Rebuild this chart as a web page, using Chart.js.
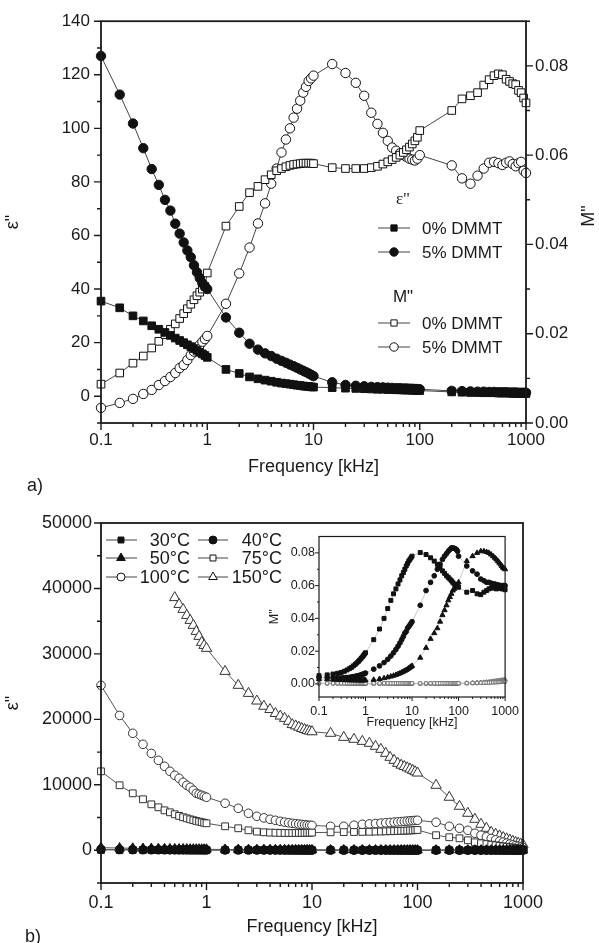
<!DOCTYPE html>
<html>
<head>
<meta charset="utf-8">
<script src="https://cdn.jsdelivr.net/npm/chart.js@4.4.1/dist/chart.umd.min.js"></script>
<style>
body { margin: 0; background: #fff; width: 599px; height: 943px; position: relative; overflow: hidden;
       font-family: "Liberation Sans", Arial, sans-serif; color: #1a1a1a; }
canvas { position: absolute; }
.tag { position: absolute; font-size: 18px; line-height: 20px; }
</style>
</head>
<body>
<canvas id="chartA" width="599" height="490" style="left:0;top:0"></canvas>
<canvas id="chartB" width="599" height="473" style="left:0;top:470px"></canvas>
<canvas id="inset" width="264" height="208" style="left:262px;top:525px"></canvas>
<div class="tag" style="left:27px;top:475px">a)</div>
<div class="tag" style="left:25px;top:926px">b)</div>
<script>
// frequency grid [kHz]
var freqA = [0.1,0.15,0.2,0.25,0.3,0.35,0.4,0.45,0.5,0.55,0.6,0.65,0.7,0.75,0.8,0.85,0.9,0.95,1,
    1.5,2,2.5,3,3.5,4,4.5,5,5.5,6,6.5,7,7.5,8,8.5,9,9.5,10,
    15,20,25,30,35,40,45,50,55,60,65,70,75,80,85,90,95,100,
    200,250,300,350,400,450,500,550,600,650,700,750,800,850,900,950,1000];
var freqB = [0.1,0.15,0.2,0.25,0.3,0.35,0.4,0.45,0.5,0.55,0.6,0.65,0.7,0.75,0.8,0.85,0.9,0.95,1,
    1.5,2,2.5,3,3.5,4,4.5,5,5.5,6,6.5,7,7.5,8,8.5,9,9.5,10,
    15,20,25,30,35,40,45,50,55,60,65,70,75,80,85,90,95,100,
    150,200,250,300,350,400,450,500,550,600,650,700,750,800,850,900,950,1000];

// panel a: eps'' (left axis) and M'' (right axis)
var epsDMMT0 = [35.5,33,30,28.1,26.3,25,23.8,22.7,21.7,20.8,20,19.2,18.5,17.8,17.1,16.4,15.8,15.2,14.5,
    10,8.5,7.2,6.5,6,5.6,5.2,4.9,4.7,4.5,4.3,4.1,4,3.8,3.7,3.6,3.5,3.4,
    3.2,3.0,2.9,2.8,2.7,2.6,2.6,2.5,2.5,2.4,2.4,2.3,2.3,2.3,2.2,2.2,2.2,2.1,
    1.6,1.5,1.4,1.4,1.3,1.3,1.3,1.2,1.2,1.2,1.2,1.1,1.1,1.1,1.1,1.0,1.0];
var epsDMMT5 = [127,112.6,101.8,92.6,84.8,78.9,73.3,69.3,64.4,60.7,57.4,54.4,51.9,48.9,46.3,44.1,42.2,41,40,
    29.4,23.7,19.6,17.4,16,15,14,13.2,12.5,11.8,11.2,10.6,10,9.5,9,8.5,8,7.5,
    5.2,4.2,3.9,3.7,3.5,3.4,3.3,3.2,3.1,3.0,3.0,2.9,2.9,2.8,2.8,2.7,2.7,2.6,
    2.0,1.9,1.8,1.7,1.7,1.6,1.6,1.5,1.5,1.5,1.4,1.4,1.4,1.3,1.3,1.3,1.3];
var modDMMT0 = [0.0087,0.0112,0.0134,0.015,0.0168,0.0183,0.0198,0.021,0.0222,0.0234,0.0245,0.0256,0.0266,0.0276,0.0285,0.0293,0.03,0.0306,0.0336,
    0.0441,0.0485,0.0516,0.053,0.0545,0.0556,0.0565,0.057,0.0574,0.0577,0.0579,0.058,0.0581,0.0582,0.0582,0.0582,0.0582,0.0581,
    0.0572,0.057,0.057,0.057,0.0572,0.0575,0.058,0.0585,0.059,0.0595,0.06,0.0606,0.0612,0.0618,0.0625,0.0632,0.064,0.0655,
    0.07,0.0726,0.0733,0.074,0.0757,0.0769,0.0778,0.0782,0.078,0.077,0.0765,0.076,0.0758,0.0745,0.074,0.0728,0.0717];
var modDMMT5 = [0.0034,0.0045,0.0054,0.0065,0.0074,0.0085,0.0094,0.0103,0.0112,0.0123,0.013,0.0141,0.0152,0.016,0.0168,0.0175,0.0182,0.0188,0.0195,
    0.0267,0.0335,0.0393,0.0447,0.0492,0.0536,0.057,0.0606,0.0635,0.066,0.0684,0.0704,0.0722,0.074,0.0753,0.0766,0.0772,0.0778,
    0.0804,0.0784,0.0762,0.0733,0.0695,0.067,0.065,0.0632,0.0617,0.061,0.0604,0.06,0.0596,0.0592,0.059,0.0588,0.0592,0.06,
    0.0577,0.0548,0.0536,0.0554,0.057,0.0583,0.0585,0.0582,0.0578,0.0583,0.0586,0.058,0.0575,0.0582,0.0585,0.0565,0.056];

// panel b: eps'' at each temperature
var eps30 = [60,55,50,48,46,44,42,40,39,38,37,36,35,34,33,32,31,30,30,
    26,24,22,21,20,19,18,18,17,17,16,16,15,15,15,14,14,14,
    12,11,10,10,9,9,9,8,8,8,8,7,7,7,7,7,6,6,
    6,5,5,5,5,4,4,4,4,4,4,4,3,3,3,3,3,3];
var eps40 = [120,105,95,88,82,78,74,71,68,66,64,62,60,58,57,56,55,54,53,
    45,40,37,35,33,31,30,29,28,27,26,25,25,24,24,23,23,22,
    19,17,16,15,14,14,13,13,12,12,12,11,11,11,11,10,10,10,
    9,8,8,7,7,7,6,6,6,6,6,6,5,5,5,5,5,5];
var eps50 = [400,340,300,270,250,235,222,210,200,192,185,178,172,167,162,158,154,150,147,
    120,105,95,88,82,78,74,71,68,66,64,62,60,58,57,56,55,54,
    46,41,38,36,34,32,31,30,29,28,27,26,26,25,25,24,24,23,
    20,19,18,17,16,16,15,15,14,14,14,13,13,13,12,12,12,12];
var eps75 = [12060,9930,8700,7790,7020,6565,6100,5800,5500,5250,5050,4880,4730,4600,4480,4380,4290,4200,4120,
    3660,3360,3050,2850,2750,2700,2680,2660,2650,2640,2640,2640,2650,2650,2660,2670,2680,2700,
    2740,2770,2790,2810,2830,2850,2870,2890,2910,2930,2950,2970,2990,3010,3030,3050,3070,3100,
    2300,1990,1830,1530,1220,1070,950,850,760,680,600,530,460,400,340,280,220,170];
var eps100 = [25200,20600,17870,16190,14800,13740,12830,12060,11450,10990,10380,9930,9620,9160,8700,8550,8400,8250,8100,
    7180,6410,5650,5190,4950,4730,4580,4420,4300,4200,4120,4050,4000,3950,3900,3860,3820,3800,
    3660,3660,3820,3970,4030,4090,4150,4200,4250,4300,4340,4380,4420,4460,4500,4530,4560,4580,
    4280,3660,3360,3050,2600,2300,2050,1800,1600,1400,1250,1100,950,820,700,600,500,400];
var eps150 = [null,null,null,null,null,null,null,null,38600,37560,36800,35880,35120,34360,33440,32680,31760,31300,30850,
    27330,25200,23970,22800,22000,21500,20900,20500,20150,19700,19200,19000,18800,18600,18450,18300,18200,18100,
    17870,17250,16950,16640,16340,15880,15420,14810,14200,13740,13280,13000,12800,12600,12400,12200,12000,11800,
    9930,8100,6720,5650,4730,3970,3360,2750,2450,2200,1950,1750,1550,1380,1220,1080,950,850];

// inset: M'' at each temperature
var mod30 = [0.005,0.0055,0.006,0.0065,0.007,0.0077,0.0085,0.0093,0.0101,0.011,0.0119,0.0128,0.0137,0.0146,0.0155,0.0164,0.0173,0.0182,0.019,
    0.027,0.0335,0.04,0.046,0.051,0.055,0.058,0.061,0.0635,0.066,0.068,0.07,0.072,0.0735,0.075,0.076,0.077,0.078,
    0.0802,0.079,0.077,0.075,0.073,0.071,0.069,0.0675,0.066,0.065,0.064,0.063,0.062,0.061,0.0605,0.06,0.0595,0.059,
    0.056,0.057,0.055,0.0545,0.056,0.057,0.058,0.0585,0.059,0.0585,0.058,0.0585,0.059,0.0585,0.058,0.0585,0.058,0.0575];
var mod40 = [0.004,0.0038,0.0037,0.0037,0.0037,0.0038,0.0039,0.004,0.0042,0.0044,0.0046,0.0048,0.005,0.0052,0.0055,0.0058,0.006,0.0063,0.0066,
    0.009,0.011,0.013,0.015,0.017,0.019,0.021,0.023,0.025,0.027,0.029,0.031,0.032,0.034,0.035,0.036,0.037,0.038,
    0.048,0.057,0.062,0.066,0.07,0.073,0.076,0.078,0.0795,0.081,0.082,0.083,0.083,0.0828,0.0825,0.082,0.081,0.078,
    0.072,0.069,0.067,0.064,0.063,0.062,0.062,0.0615,0.061,0.061,0.0605,0.0605,0.06,0.06,0.06,0.06,0.06,0.06];
var mod50 = [0.003,0.0028,0.0026,0.0025,0.0024,0.0023,0.0023,0.0022,0.0022,0.0022,0.0022,0.0022,0.0022,0.0022,0.0022,0.0022,0.0022,0.0022,0.0022,
    0.0025,0.003,0.0035,0.004,0.0045,0.005,0.0055,0.006,0.0065,0.007,0.0075,0.008,0.0085,0.009,0.0095,0.01,0.0105,0.011,
    0.016,0.022,0.0275,0.031,0.034,0.038,0.042,0.045,0.048,0.051,0.053,0.055,0.057,0.058,0.059,0.06,0.061,0.062,
    0.075,0.078,0.08,0.081,0.081,0.0805,0.08,0.079,0.078,0.077,0.076,0.075,0.074,0.073,0.072,0.071,0.0705,0.07];
var mod75 = [0.0004,0.0004,0.0004,0.0004,0.0004,0.0004,0.0004,0.0004,0.0004,0.0004,0.0004,0.0004,0.0004,0.0004,0.0004,0.0004,0.0004,0.0004,0.0004,
    0.0004,0.0004,0.0004,0.0004,0.0004,0.0004,0.0004,0.0004,0.0004,0.0004,0.0004,0.0004,0.0004,0.0004,0.0004,0.0004,0.0004,0.0004,
    0.0004,0.0004,0.0004,0.0004,0.0004,0.0004,0.0004,0.0004,0.0004,0.0004,0.0004,0.0004,0.0004,0.0004,0.0004,0.0004,0.0004,0.0004,
    0.0005,0.0006,0.0006,0.0007,0.0007,0.0008,0.0008,0.0009,0.0009,0.001,0.001,0.0011,0.0011,0.0012,0.0012,0.0013,0.0013,0.0014];
var mod100 = [0.0002,0.0002,0.0002,0.0002,0.0002,0.0002,0.0002,0.0002,0.0002,0.0002,0.0002,0.0002,0.0002,0.0002,0.0002,0.0002,0.0002,0.0002,0.0002,
    0.0002,0.0002,0.0002,0.0002,0.0002,0.0002,0.0002,0.0002,0.0002,0.0002,0.0002,0.0002,0.0002,0.0002,0.0002,0.0002,0.0002,0.0002,
    0.0002,0.0002,0.0002,0.0002,0.0002,0.0002,0.0002,0.0002,0.0002,0.0002,0.0002,0.0002,0.0002,0.0002,0.0002,0.0002,0.0003,0.0003,
    0.0004,0.0005,0.0006,0.0007,0.0008,0.0009,0.001,0.0011,0.0012,0.0013,0.0014,0.0015,0.0016,0.0017,0.0018,0.0019,0.002,0.002];
var mod150 = [null,null,null,null,null,null,null,null,0.0001,0.0001,0.0001,0.0001,0.0001,0.0001,0.0001,0.0001,0.0001,0.0001,0.0001,
    0.0001,0.0001,0.0001,0.0001,0.0001,0.0001,0.0001,0.0001,0.0001,0.0001,0.0001,0.0001,0.0001,0.0001,0.0001,0.0001,0.0001,0.0001,
    0.0001,0.0001,0.0001,0.0001,0.0001,0.0001,0.0001,0.0002,0.0002,0.0002,0.0002,0.0002,0.0002,0.0002,0.0002,0.0003,0.0003,0.0003,
    0.0005,0.0006,0.0008,0.0009,0.001,0.0012,0.0013,0.0015,0.0016,0.0018,0.0019,0.002,0.0021,0.0022,0.0023,0.0024,0.0025,0.0026];

// tick positions
var decadeTicks = [0.1, 1, 10, 100, 1000];
var decadeMinor = [0.2,0.3,0.4,0.5,0.6,0.7,0.8,0.9, 2,3,4,5,6,7,8,9, 20,30,40,50,60,70,80,90, 200,300,400,500,600,700,800,900];
var epsTicksA = [0, 20, 40, 60, 80, 100, 120, 140];
var epsMinorA = [-10, 10, 30, 50, 70, 90, 110, 130];
var modTicksA = [0, 0.02, 0.04, 0.06, 0.08];
var modMinorA = [0.01, 0.03, 0.05, 0.07, 0.09];
var epsTicksB = [0, 10000, 20000, 30000, 40000, 50000];
var epsMinorB = [-5000, 5000, 15000, 25000, 35000, 45000];
var modTicksIn = [0, 0.02, 0.04, 0.06, 0.08];
var modMinorIn = [0.01, 0.03, 0.05, 0.07];

var namesA = ['0% DMMT', '5% DMMT'];
var namesB = ['30°C', '40°C', '50°C', '75°C', '100°C', '150°C'];

var FONT = '"Liberation Sans", Arial, sans-serif';
var INK = '#1a1a1a';

function pts(freq, vals) {
    return vals.map(function (v, i) { return { x: freq[i], y: v }; });
}

function series(freq, vals, style, filled, r, opts) {
    opts = opts || {};
    return {
        data: pts(freq, vals),
        yAxisID: opts.axis || 'y',
        borderColor: opts.line || '#444',
        borderWidth: opts.lw || 1,
        pointStyle: style,
        pointRadius: r,
        pointHoverRadius: r,
        pointBackgroundColor: filled ? '#111' : '#fff',
        pointBorderColor: opts.mark || '#111',
        pointBorderWidth: opts.mw || 1,
        tension: 0,
        clip: false,
        spanGaps: false
    };
}

function fixTicks(list) {
    return function (s) { s.ticks = list.map(function (v) { return { value: v }; }); };
}

// frame, outward major/minor ticks and extra drawing
function framePlugin(spec) {
    return {
        id: 'frame',
        afterDatasetsDraw: function (chart) {
            var ctx = chart.ctx, a = chart.chartArea;
            ctx.save();
            ctx.strokeStyle = INK;
            ctx.lineWidth = spec.frame;
            ctx.strokeRect(a.left, a.top, a.right - a.left, a.bottom - a.top);
            ctx.lineWidth = spec.tickWidth;
            ctx.beginPath();
            spec.axes.forEach(function (ax) {
                var s = chart.scales[ax.id];
                [[ax.major, spec.major], [ax.minor, spec.minor]].forEach(function (pair) {
                    pair[0].forEach(function (v) {
                        var p = s.getPixelForValue(v);
                        if (ax.side === 'bottom') { ctx.moveTo(p, a.bottom); ctx.lineTo(p, a.bottom + pair[1]); }
                        else if (ax.side === 'left') { ctx.moveTo(a.left, p); ctx.lineTo(a.left - pair[1], p); }
                        else { ctx.moveTo(a.right, p); ctx.lineTo(a.right + pair[1], p); }
                    });
                });
            });
            ctx.stroke();
            if (spec.extra) spec.extra(ctx, a);
            ctx.restore();
        }
    };
}

function drawKey(ctx, k, x0, x1, xm, y) {
    ctx.strokeStyle = '#444';
    ctx.lineWidth = 1;
    ctx.beginPath(); ctx.moveTo(x0, y); ctx.lineTo(x1, y); ctx.stroke();
    ctx.fillStyle = k.filled ? '#111' : '#fff';
    ctx.strokeStyle = '#111';
    Chart.helpers.drawPoint(ctx, { pointStyle: k.style, radius: k.r, borderWidth: 1, rotation: 0 }, xm, y);
}

function tickFont(size) { return { family: FONT, size: size }; }

function logAxis(opts) {
    return {
        type: 'logarithmic', min: 0.1, max: 1000,
        afterBuildTicks: fixTicks(decadeTicks),
        afterFit: function (s) { s.height = opts.height; },
        ticks: { padding: opts.pad, color: INK, font: tickFont(opts.size), maxRotation: 0, autoSkip: false,
                 callback: function (v) { return String(v); } },
        grid: { display: false, drawTicks: false },
        border: { display: false },
        title: { display: true, text: 'Frequency [kHz]', color: INK, font: tickFont(opts.titleSize),
                 padding: { top: 0, bottom: opts.titlePad } }
    };
}

function linAxis(opts) {
    return {
        type: 'linear', position: opts.position || 'left', min: opts.min, max: opts.max,
        afterBuildTicks: fixTicks(opts.ticks),
        afterFit: function (s) { s.width = opts.width; },
        ticks: { padding: opts.pad, color: INK, font: tickFont(opts.size),
                 callback: opts.fmt || function (v) { return String(v); } },
        grid: { display: false, drawTicks: false },
        border: { display: false },
        title: opts.title ? { display: true, text: opts.title, color: INK, font: tickFont(opts.titleSize),
                 padding: { top: opts.titlePad, bottom: 0 } } : { display: false }
    };
}

var base = {
    responsive: false, animation: false, devicePixelRatio: 1,
    plugins: { legend: { display: false }, tooltip: { enabled: false } }
};

// ---------- panel a ----------
new Chart(document.getElementById('chartA'), {
    type: 'line',
    data: {
        datasets: [
            series(freqA, epsDMMT0, 'rect', true, 5.4),
            series(freqA, epsDMMT5, 'circle', true, 4.7),
            series(freqA, modDMMT0, 'rect', false, 5.4, { axis: 'yR' }),
            series(freqA, modDMMT5, 'circle', false, 4.7, { axis: 'yR' })
        ]
    },
    options: Object.assign({}, base, {
        layout: { padding: { top: 20, left: 0, right: 0, bottom: 0 } },
        scales: {
            x: logAxis({ height: 67, pad: 7, size: 17, titleSize: 18, titlePad: 12 }),
            y: linAxis({ min: -10, max: 140, ticks: epsTicksA, width: 101, pad: 11, size: 17,
                         title: 'ε"', titleSize: 18, titlePad: 2 }),
            yR: linAxis({ position: 'right', min: 0, max: 0.09, ticks: modTicksA, width: 73, pad: 9, size: 17,
                          fmt: function (v) { return v.toFixed(2); } })
        }
    }),
    plugins: [framePlugin({
        frame: 1.8, tickWidth: 1.4, major: 7, minor: 4,
        axes: [
            { id: 'x', side: 'bottom', major: decadeTicks, minor: decadeMinor },
            { id: 'y', side: 'left', major: epsTicksA, minor: epsMinorA },
            { id: 'yR', side: 'right', major: modTicksA, minor: modMinorA }
        ],
        extra: function (ctx, a) {
            ctx.fillStyle = INK;
            ctx.textAlign = 'center';
            ctx.textBaseline = 'middle';
            ctx.save();
            ctx.translate(589, 216);
            ctx.rotate(-Math.PI / 2);
            ctx.font = '18px ' + FONT;
            ctx.fillText('M"', 0, 0);
            ctx.restore();
            ctx.font = '17px "Liberation Serif", serif';
            ctx.fillText('ε"', 403, 200);
            ctx.font = '17px ' + FONT;
            ctx.fillText('M"', 403, 297);
            var keys = [
                { style: 'rect', filled: true, r: 4.4, y: 228, name: namesA[0] },
                { style: 'circle', filled: true, r: 4.2, y: 252, name: namesA[1] },
                { style: 'rect', filled: false, r: 4.4, y: 323, name: namesA[0] },
                { style: 'circle', filled: false, r: 4.2, y: 347, name: namesA[1] }
            ];
            keys.forEach(function (k) {
                drawKey(ctx, k, 378, 410, 394, k.y);
                ctx.fillStyle = INK;
                ctx.textAlign = 'left';
                ctx.font = '17px ' + FONT;
                ctx.fillText(k.name, 422, k.y + 1);
            });
        }
    })]
});

// ---------- panel b ----------
new Chart(document.getElementById('chartB'), {
    type: 'line',
    data: {
        datasets: [
            series(freqB, eps30, 'rect', true, 4.8, { line: '#555' }),
            series(freqB, eps40, 'circle', true, 4.3, { line: '#555' }),
            series(freqB, eps50, 'triangle', true, 5.5, { line: '#555' }),
            series(freqB, eps75, 'rect', false, 4.8, { line: '#555', mark: '#333' }),
            series(freqB, eps100, 'circle', false, 4.3, { line: '#555', mark: '#333' }),
            series(freqB, eps150, 'triangle', false, 6, { line: '#555', mark: '#333' })
        ]
    },
    options: Object.assign({}, base, {
        layout: { padding: { top: 53, left: 0, right: 76, bottom: 0 } },
        scales: {
            x: logAxis({ height: 60, pad: 9, size: 18, titleSize: 18, titlePad: 5 }),
            y: linAxis({ min: -5000, max: 50000, ticks: epsTicksB, width: 101, pad: 9, size: 18,
                         title: 'ε"', titleSize: 18, titlePad: 2 })
        }
    }),
    plugins: [framePlugin({
        frame: 1.8, tickWidth: 1.4, major: 7, minor: 4,
        axes: [
            { id: 'x', side: 'bottom', major: decadeTicks, minor: decadeMinor },
            { id: 'y', side: 'left', major: epsTicksB, minor: epsMinorB }
        ],
        extra: function (ctx) {
            var keys = [
                { style: 'rect', filled: true, r: 4.2 },
                { style: 'circle', filled: true, r: 4 },
                { style: 'triangle', filled: true, r: 5 },
                { style: 'rect', filled: false, r: 4.2 },
                { style: 'circle', filled: false, r: 4 },
                { style: 'triangle', filled: false, r: 5 }
            ];
            var rows = [70, 88, 107];
            keys.forEach(function (k, i) {
                var col = i % 2, y = rows[Math.floor(i / 2)];
                if (col === 0) drawKey(ctx, k, 106, 137, 121, y);
                else drawKey(ctx, k, 198, 228, 213, y);
                ctx.fillStyle = INK;
                ctx.textAlign = 'right';
                ctx.textBaseline = 'middle';
                ctx.font = '18px ' + FONT;
                ctx.fillText(namesB[i], col === 0 ? 190 : 282, y + 1);
            });
        }
    })]
});

// ---------- inset ----------
var thin = { line: '#bbb', lw: 0.8 };
var thinOpen = { line: '#bbb', lw: 0.8, mark: '#666', mw: 0.8 };
new Chart(document.getElementById('inset'), {
    type: 'line',
    data: {
        datasets: [
            series(freqB, mod30, 'rect', true, 2.8, thin),
            series(freqB, mod40, 'circle', true, 2.4, thin),
            series(freqB, mod50, 'triangle', true, 3, thin),
            series(freqB, mod75, 'rect', false, 2.2, thinOpen),
            series(freqB, mod100, 'circle', false, 2, thinOpen),
            series(freqB, mod150, 'triangle', false, 2.4, thinOpen)
        ]
    },
    options: Object.assign({}, base, {
        layout: { padding: { top: 10, left: 0, right: 20, bottom: 0 } },
        scales: {
            x: logAxis({ height: 36, pad: 7, size: 12.5, titleSize: 12.5, titlePad: 3 }),
            y: linAxis({ min: -0.008, max: 0.09, ticks: modTicksIn, width: 57, pad: 4, size: 12.5,
                         title: 'M"', titleSize: 12.5, titlePad: 5,
                         fmt: function (v) { return v.toFixed(2); } })
        }
    }),
    plugins: [framePlugin({
        frame: 1.2, tickWidth: 1, major: 4, minor: 2,
        axes: [
            { id: 'x', side: 'bottom', major: decadeTicks, minor: decadeMinor },
            { id: 'y', side: 'left', major: modTicksIn, minor: modMinorIn }
        ]
    })]
});
</script>
</body>
</html>
